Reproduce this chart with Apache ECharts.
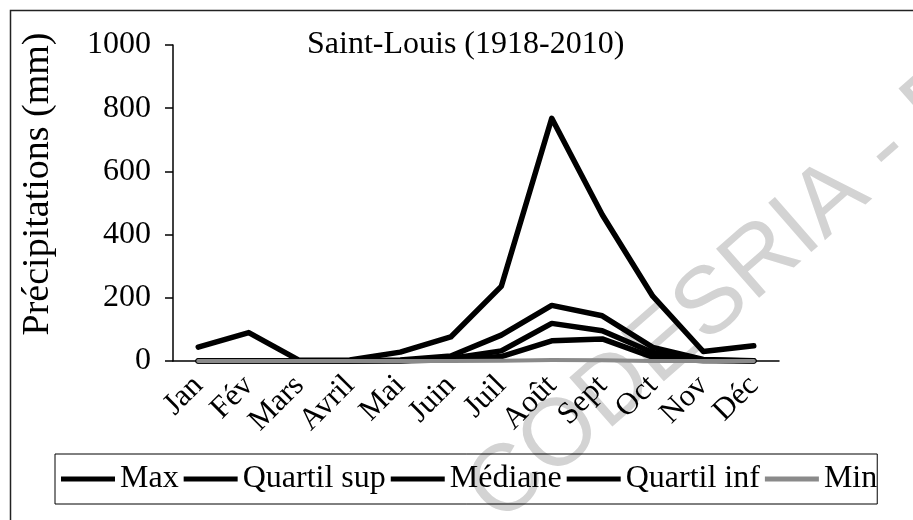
<!DOCTYPE html>
<html>
<head>
<meta charset="utf-8">
<script src="https://cdn.jsdelivr.net/npm/echarts@6/dist/echarts.min.js"></script>
<style>
  html, body { margin: 0; padding: 0; background: #fff; }
  #chart { width: 913px; height: 520px; }
</style>
</head>
<body>
<div id="chart"></div>
<script>
// mois
var months = ['Jan', 'Fév', 'Mars', 'Avril', 'Mai', 'Juin', 'Juil', 'Août', 'Sept', 'Oct', 'Nov', 'Déc'];

// précipitations (mm)
var maxVals = [44, 90, 2, 3, 28, 76, 236, 768, 463, 205, 30, 48];
var quartilSup = [0, 0, 0, 0, 3, 16, 82, 176, 143, 43, 5, 1];
var mediane = [0, 0, 0, 0, 1, 8, 32, 119, 96, 27, 3, 0];
var quartilInf = [0, 0, 0, 0, 0, 4, 14, 64, 70, 12, 1, 0];
var minVals = [0, 0, 0, 0, 0, 0, 1, 3, 2, 0, 0, 0];

var yTicks = { min: 0, max: 1000, interval: 200 };

var serif = 'Liberation Serif';

function lineSerie(name, data, color, width) {
    return {
        name: name,
        type: 'line',
        data: data,
        symbol: 'none',
        lineStyle: { color: color, width: width, cap: 'round', join: 'round' },
        itemStyle: { color: color },
        z: 3
    };
}

var option = {
    animation: false,
    backgroundColor: '#fff',
    title: {
        text: 'Saint-Louis (1918-2010)',
        left: 302,
        top: 24,
        textStyle: { fontFamily: serif, fontSize: 32, fontWeight: 'normal', color: '#000' }
    },
    grid: {
        left: 173,
        right: 134,
        top: 45,
        bottom: 159,
        containLabel: false,
        outerBoundsMode: 'none'
    },
    legend: {
        left: 55,
        top: 454,
        orient: 'horizontal',
        icon: 'rect',
        itemWidth: 54,
        itemHeight: 5,
        itemGap: 5,
        padding: [9, 0, 9, 6],
        borderColor: '#000',
        borderWidth: 1,
        textStyle: { fontFamily: serif, fontSize: 32, color: '#000' },
        data: ['Max', 'Quartil sup', 'Médiane', 'Quartil inf', 'Min']
    },
    xAxis: {
        type: 'category',
        data: months,
        boundaryGap: true,
        axisLine: { lineStyle: { color: '#000', width: 1.5 } },
        axisTick: { length: 8, lineStyle: { color: '#000', width: 1.5 } },
        axisLabel: {
            rotate: 45,
            margin: 20,
            interval: 0,
            fontFamily: serif,
            fontSize: 31,
            color: '#000'
        },
        splitLine: { show: false }
    },
    yAxis: {
        type: 'value',
        min: yTicks.min,
        max: yTicks.max,
        interval: yTicks.interval,
        name: 'Précipitations (mm)',
        nameLocation: 'middle',
        nameGap: 116,
        nameTextStyle: { fontFamily: serif, fontSize: 38, color: '#000', padding: [0, 0, 0, 38] },
        axisLine: { show: true, lineStyle: { color: '#000', width: 1.5 } },
        axisTick: { show: true, length: 8, lineStyle: { color: '#000', width: 1.5 } },
        axisLabel: {
            margin: 22,
            fontFamily: serif,
            fontSize: 32,
            color: '#000',
            formatter: function (v) { return String(v); }
        },
        splitLine: { show: false }
    },
    graphic: [
        {
            type: 'rect',
            z: 0,
            silent: true,
            shape: { x: 10.5, y: 10.5, width: 1000, height: 1000 },
            style: { fill: 'none', stroke: '#222', lineWidth: 1.5 }
        },
        {
            type: 'text',
            z: 0,
            silent: true,
            x: 482,
            y: 506,
            rotation: 0.72,
            style: {
                text: 'CODESRIA - BIBLIOTHEQUE',
                fontFamily: 'Liberation Sans',
                fontSize: 95,
                fill: '#d3d3d3',
                textAlign: 'left',
                textVerticalAlign: 'middle'
            }
        }
    ],
    series: [
        lineSerie('Max', maxVals, '#000', 5.5),
        lineSerie('Quartil sup', quartilSup, '#000', 5.5),
        lineSerie('Médiane', mediane, '#000', 5.5),
        lineSerie('Quartil inf', quartilInf, '#000', 5.5),
        lineSerie('Min', minVals, '#8a8a8a', 4)
    ]
};

var myChart = echarts.init(document.getElementById('chart'));
myChart.setOption(option);
</script>
</body>
</html>
